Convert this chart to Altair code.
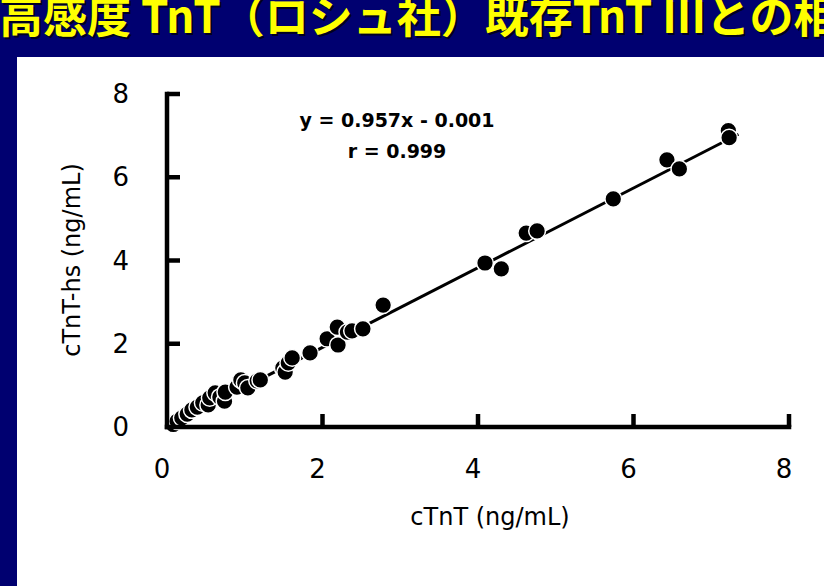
import altair as alt
import pandas as pd

# ---- data ----
x_vals = [0.08, 0.13, 0.19, 0.26, 0.32, 0.39, 0.46, 0.53, 0.55, 0.62,
          0.68, 0.74, 0.75, 0.90, 0.95, 1.00, 1.04, 1.16, 1.20, 1.49,
          1.52, 1.56, 1.61, 1.84, 2.06, 2.19, 2.20, 2.32, 2.38, 2.52,
          2.78, 4.09, 4.30, 4.62, 4.76, 5.74, 6.43, 6.59, 7.22, 7.23]
y_vals = [0.06, 0.14, 0.22, 0.31, 0.41, 0.48, 0.58, 0.53, 0.70, 0.82,
          0.72, 0.62, 0.84, 0.96, 1.13, 1.06, 0.94, 1.11, 1.13, 1.42,
          1.32, 1.54, 1.66, 1.78, 2.12, 2.40, 1.97, 2.28, 2.31, 2.36,
          2.93, 3.94, 3.80, 4.66, 4.71, 5.48, 6.42, 6.20, 7.12, 6.95]
tick_values = [0, 2, 4, 6, 8]
tick_labels = ["0", "2", "4", "6", "8"]
inner_ticks = [2, 4, 6, 8]
slope, intercept = 0.957, -0.001
line_x = [0.05, 7.35]
eq_text = "y = 0.957x - 0.001"
r_text = "r = 0.999"
title_text = "高感度 TnT（ロシュ社）既存TnT IIIとの相関"
x_title = "cTnT (ng/mL)"
y_title = "cTnT-hs (ng/mL)"

W, H = 622, 333
navy = "#000070"
AXW = 4.5
FONT = "DejaVu Sans"

df = pd.DataFrame({"x": x_vals, "y": y_vals})
line_df = pd.DataFrame({"x": line_x, "y": [slope * v + intercept for v in line_x]})
ticks_df = pd.DataFrame({"v": tick_values, "lab": tick_labels})
inner_df = pd.DataFrame({"v": inner_ticks})
one = pd.DataFrame({"a": [0]})

xs = alt.Scale(domain=[0, 8], nice=False)
ys = alt.Scale(domain=[0, 8], nice=False)

top_band = alt.Chart(one).mark_rect(color=navy).encode(
    x=alt.value(-200), x2=alt.value(700), y=alt.value(-120), y2=alt.value(-37))
left_band = alt.Chart(one).mark_rect(color=navy).encode(
    x=alt.value(-200), x2=alt.value(-150), y=alt.value(-120), y2=alt.value(520))

title_shadow = alt.Chart(one).mark_text(
    text=title_text, font="Noto Sans CJK JP", fontWeight="bold", fontSize=44,
    color="#000020", align="left", baseline="alphabetic").encode(
    x=alt.value(-166), y=alt.value(-59))
title = alt.Chart(one).mark_text(
    text=title_text, font="Noto Sans CJK JP", fontWeight="bold", fontSize=44,
    color="#FFFF00", align="left", baseline="alphabetic").encode(
    x=alt.value(-168), y=alt.value(-61))

line = alt.Chart(line_df).mark_line(color="black", strokeWidth=3).encode(
    x=alt.X("x:Q", scale=xs, axis=None),
    y=alt.Y("y:Q", scale=ys, axis=None))

pts = alt.Chart(df).mark_circle(size=280, fill="black", stroke="white",
                                strokeWidth=1.5, opacity=1).encode(
    x=alt.X("x:Q", scale=xs, axis=None),
    y=alt.Y("y:Q", scale=ys, axis=None))

# axis lines
x_dom = alt.Chart(one).mark_rule(color="black", strokeWidth=AXW, strokeCap="square").encode(
    x=alt.value(0), x2=alt.value(W), y=alt.value(H))
y_dom = alt.Chart(one).mark_rule(color="black", strokeWidth=AXW, strokeCap="square").encode(
    x=alt.value(0), y=alt.value(0), y2=alt.value(H))

# inward ticks
xt = alt.Chart(inner_df).mark_rule(color="black", strokeWidth=AXW).encode(
    x=alt.X("v:Q", scale=xs, axis=None), y=alt.value(H - 13), y2=alt.value(H))
yt = alt.Chart(inner_df).mark_rule(color="black", strokeWidth=AXW).encode(
    y=alt.Y("v:Q", scale=ys, axis=None), x=alt.value(0), x2=alt.value(13))

# tick labels
xl = alt.Chart(ticks_df).mark_text(
    font=FONT, fontSize=26, color="black", align="center", baseline="middle", dx=-5).encode(
    x=alt.X("v:Q", scale=xs, axis=None), y=alt.value(H + 43), text="lab:N")
yl = alt.Chart(ticks_df).mark_text(
    font=FONT, fontSize=26, color="black", align="right", baseline="middle", dy=1).encode(
    y=alt.Y("v:Q", scale=ys, axis=None), x=alt.value(-38), text="lab:N")

# axis titles
xtt = alt.Chart(one).mark_text(
    text=x_title, font=FONT, fontSize=24, color="black", align="center",
    baseline="middle").encode(x=alt.value(323), y=alt.value(424))
ytt = alt.Chart(one).mark_text(
    text=y_title, font=FONT, fontSize=24, color="black", align="center",
    baseline="middle", angle=270).encode(x=alt.value(-94), y=alt.value(166))

eq = alt.Chart(one).mark_text(
    text=eq_text, font=FONT, fontWeight="bold", fontSize=19,
    color="black", align="center", baseline="middle").encode(
    x=alt.value(230), y=alt.value(27))
rr = alt.Chart(one).mark_text(
    text=r_text, font=FONT, fontWeight="bold", fontSize=19,
    color="black", align="center", baseline="middle").encode(
    x=alt.value(230), y=alt.value(58))

chart = alt.layer(top_band, left_band, title_shadow, title, line, pts,
                  x_dom, y_dom, xt, yt, xl, yl, xtt, ytt, eq, rr).properties(
    width=W, height=H, background="white",
    padding={"left": 167, "top": 94, "right": 35, "bottom": 159},
    autosize=alt.AutoSizeParams(type="none"),
).configure_view(stroke=None)

chart.save("out.html", embed_options={"renderer": "svg", "actions": False})
